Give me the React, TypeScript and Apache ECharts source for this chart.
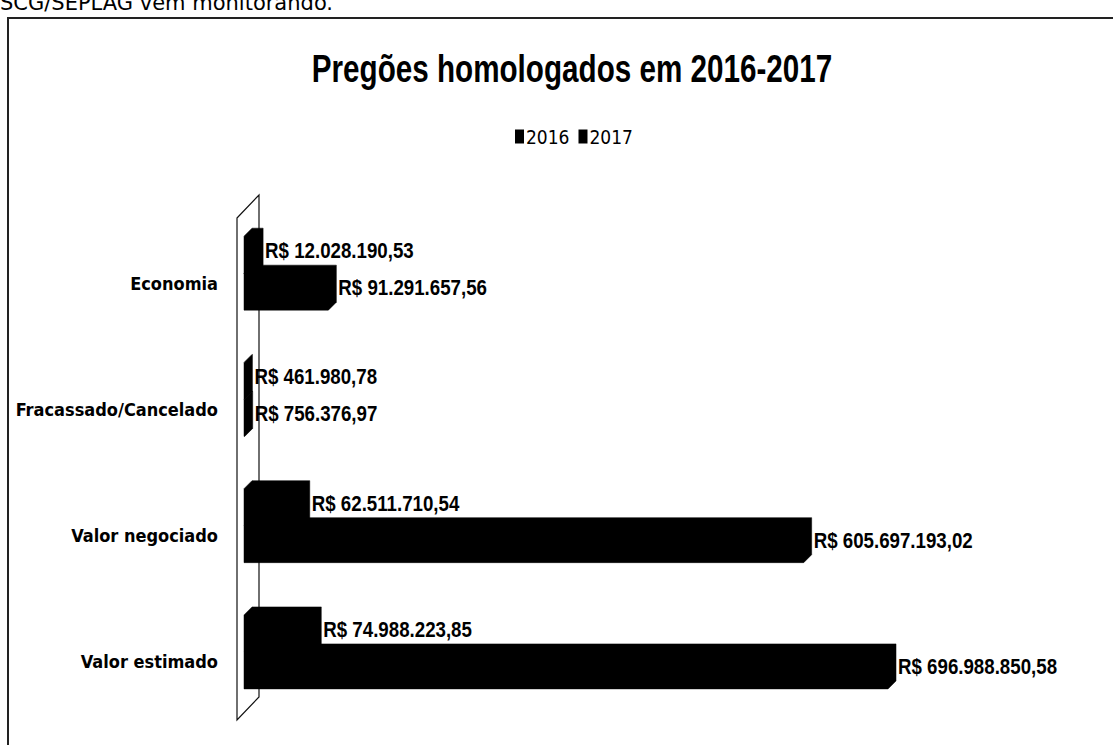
import React, { useEffect, useRef } from "react";
import * as echarts from "echarts";

const categories = ["Economia", "Fracassado/Cancelado", "Valor negociado", "Valor estimado"];
const seriesNames = ["2016", "2017"];
const values2016 = [12028190.53, 461980.78, 62511710.54, 74988223.85];
const values2017 = [91291657.56, 756376.97, 605697193.02, 696988850.58];
const titleText = "Pregões homologados em 2016-2017";
const pageText = "SCG/SEPLAG vem monitorando.";

const FONT = "'Liberation Sans', Arial, sans-serif";
const COND = "'DejaVu Sans Condensed', 'Liberation Sans', sans-serif";

function brl(v: number): string {
  const [i, d] = v.toFixed(2).split(".");
  return "R$ " + i.replace(/\B(?=(\d{3})+(?!\d))/g, ".") + "," + d;
}

function makeRender(slot: number) {
  return (params: any, api: any) => {
    const v = api.value(0);
    const c = api.value(1);
    const end = api.coord([v, c]);
    const start = api.coord([0, c]);
    const band = api.size([0, 1])[1];
    const h = band * 0.293;
    const d = 8;
    const top = end[1] - band * 0.372 + slot * h;
    const bot = top + h;
    const x0 = start[0];
    const x1 = end[0];
    return {
      type: "group",
      children: [
        {
          type: "polygon",
          shape: {
            points: [
              [x0, top],
              [x0 + d, top - d],
              [x1 + d, top - d],
              [x1 + d, bot - d],
              [x1, bot],
              [x0, bot],
            ],
          },
          style: { fill: "#000", stroke: "#000", lineWidth: 0.5 },
        },
        {
          type: "text",
          x: x1 + d + 2,
          y: (top + bot) / 2 - 4,
          scaleX: 0.85,
          style: {
            text: brl(v),
            fontFamily: FONT,
            fontWeight: "bold",
            fontSize: 22,
            fill: "#000",
            verticalAlign: "middle",
            align: "left",
          },
        },
      ],
    };
  };
}

export default function App() {
  const ref = useRef<HTMLDivElement>(null);
  useEffect(() => {
    if (!ref.current) return;
    const chart = echarts.init(ref.current, undefined, { renderer: "svg" });
    const option: any = {
      animation: false,
      backgroundColor: "#fff",
      legend: {
        data: seriesNames.map((n) => ({ name: n, icon: "rect" })),
        left: 510,
        top: 122,
        itemWidth: 9,
        itemHeight: 14,
        itemGap: 9,
        textStyle: { fontFamily: COND, fontSize: 19, color: "#000", padding: [0, 0, 0, -3] },
      },
      grid: { left: 244, top: 220, width: 739.2, height: 505, outerBoundsMode: "none", containLabel: false },
      xAxis: { type: "value", min: 0, max: 800000000, show: false },
      yAxis: {
        type: "category",
        data: categories,
        inverse: true,
        axisLine: { show: false },
        axisTick: { show: false },
        axisLabel: {
          margin: 26,
          fontFamily: COND,
          fontWeight: "bold",
          fontSize: 18,
          color: "#000",
        },
      },
      graphic: [
        {
          type: "text",
          x: 0,
          y: -8,
          z: 0,
          style: { text: pageText, fontFamily: "'DejaVu Sans', Verdana, sans-serif", fontSize: 21, fill: "#000" },
        },
        {
          type: "text",
          x: 572,
          y: 68,
          z: 5,
          scaleX: 0.76,
          style: {
            text: titleText,
            fontFamily: FONT,
            fontWeight: "bold",
            fontSize: 39,
            fill: "#000",
            align: "center",
            verticalAlign: "middle",
          },
        },
        {
          type: "rect",
          z: 0,
          shape: { x: 8, y: 18, width: 1300, height: 900 },
          style: { fill: "none", stroke: "#222", lineWidth: 2 },
        },
        {
          type: "polygon",
          z: 0,
          shape: { points: [[237, 218], [259, 195], [259, 697], [237, 720]] },
          style: { fill: "none", stroke: "#111", lineWidth: 1.2 },
        },
      ],
      series: [
        {
          name: seriesNames[0],
          type: "custom",
          renderItem: makeRender(0),
          encode: { x: 0, y: 1 },
          itemStyle: { color: "#000" },
          data: values2016.map((v, i) => [v, i]),
          z: 3,
        },
        {
          name: seriesNames[1],
          type: "custom",
          renderItem: makeRender(1),
          encode: { x: 0, y: 1 },
          itemStyle: { color: "#000" },
          data: values2017.map((v, i) => [v, i]),
          z: 3,
        },
      ],
    };
    chart.setOption(option);
    return () => chart.dispose();
  }, []);
  return (
    <div
      ref={ref}
      style={{ position: "fixed", left: 0, top: 0, width: 1113, height: 745 }}
    />
  );
}
